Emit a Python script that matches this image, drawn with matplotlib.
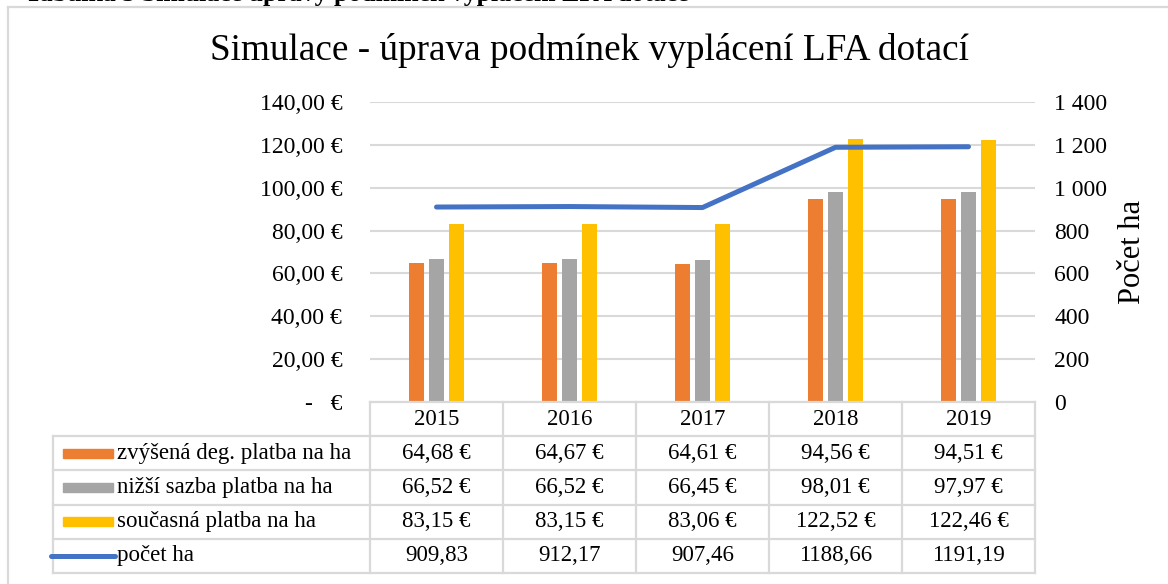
import matplotlib
matplotlib.use("Agg")
import matplotlib.pyplot as plt
from matplotlib.patches import Rectangle
from matplotlib.lines import Line2D
import numpy as np

# ── Data ──────────────────────────────────────────────────────────────────────
years = ["2015", "2016", "2017", "2018", "2019"]
zvysena = [64.68, 64.67, 64.61, 94.56, 94.51]
nizsi = [66.52, 66.52, 66.45, 98.01, 97.97]
soucasna = [83.15, 83.15, 83.06, 122.52, 122.46]
pocet_ha = [909.83, 912.17, 907.46, 1188.66, 1191.19]

bar_names = ["zvýšená deg. platba na ha", "nižší sazba platba na ha", "současná platba na ha"]
line_name = "počet ha"
bar_colors = ["#ED7D31", "#A5A5A5", "#FFC000"]
line_color = "#4472C4"
grid_color = "#D9D9D9"

left_ticks = [0, 20, 40, 60, 80, 100, 120, 140]
right_ticks = [0, 200, 400, 600, 800, 1000, 1200, 1400]

TITLE = "Simulace - úprava podmínek vyplácení LFA dotací"
CAPTION = "Tabulka 5 Simulace úpravy podmínek vyplácení LFA dotace"

# ── Helpers ───────────────────────────────────────────────────────────────────
W, H = 1168, 584
plt.rcParams["font.family"] = ["Liberation Serif", "DejaVu Serif"]
FS_TAB = 16.5


def px_box(x0, y0, x1, y1):
    return [x0 / W, 1 - y1 / H, (x1 - x0) / W, (y1 - y0) / H]


def eur(v):
    return f"{v:.2f}".replace(".", ",") + " €"


def num(v):
    return f"{v:.2f}".replace(".", ",")


def thousands(v):
    return f"{int(v):,}".replace(",", " ")


fig = plt.figure(figsize=(W / 100, H / 100), dpi=100)

# outer frame + caption (mostly above the top edge, as in the source screenshot)
fig.add_artist(Line2D([8 / W, 1], [1 - 7 / H, 1 - 7 / H], color=grid_color, lw=1.6))
fig.add_artist(Line2D([8 / W, 8 / W], [1 - 7 / H, 0], color=grid_color, lw=1.6))
fig.text(25 / W, 1 - 1.5 / H, CAPTION, fontsize=18.5, fontweight="bold", va="baseline")

fig.text(590 / W, 1 - 51 / H, TITLE, fontsize=26.8, ha="center", va="center")

# ── Chart ─────────────────────────────────────────────────────────────────────
ax = fig.add_axes(px_box(370, 102, 1035, 402))
x = np.arange(len(years))
step, bw = 0.15, 0.115
for i, (vals, c) in enumerate(zip([zvysena, nizsi, soucasna], bar_colors)):
    ax.bar(x + (i - 1) * step, vals, width=bw, color=c, zorder=3)
ax.set_xlim(-0.5, len(years) - 0.5)
ax.set_ylim(0, 140)
ax.set_yticks(left_ticks)
ax.set_yticklabels([eur(v) if v else "-   €" for v in left_ticks], fontsize=17)
ax.tick_params(axis="y", length=0, pad=20)
ax.set_xticks([])
for s in ax.spines.values():
    s.set_visible(False)
ax.grid(axis="y", color=grid_color, lw=1.5, zorder=0)

ax2 = ax.twinx()
ax2.plot(x, pocet_ha, color=line_color, lw=3.6, solid_capstyle="round",
         solid_joinstyle="round", zorder=4)
ax2.set_ylim(0, 1400)
ax2.set_yticks(right_ticks)
ax2.set_yticklabels([thousands(v) for v in right_ticks], fontsize=17)
ax2.tick_params(axis="y", length=0, pad=14)
for s in ax2.spines.values():
    s.set_visible(False)
fig.text(1133 / W, 1 - 252 / H, "Počet ha", fontsize=22, rotation=90,
         ha="center", va="center")

# ── Data table ────────────────────────────────────────────────────────────────
tab = fig.add_axes(px_box(53, 402, 1035, 573))
x_left = -0.5 - 317 / 133
n_rows = 5
tab.set_xlim(x_left, len(years) - 0.5)
tab.set_ylim(n_rows, 0)
tab.axis("off")

lw_tab = 1.6
for r in range(n_rows + 1):
    x0 = -0.5 if r == 0 else x_left
    tab.plot([x0, len(years) - 0.5], [r, r], color=grid_color, lw=lw_tab, clip_on=False)
for c in range(len(years) + 1):
    tab.plot([c - 0.5, c - 0.5], [0, n_rows], color=grid_color, lw=lw_tab, clip_on=False)
tab.plot([x_left, x_left], [1, n_rows], color=grid_color, lw=lw_tab, clip_on=False)

for j, yr in enumerate(years):
    tab.text(j, 0.5, yr, ha="center", va="center", fontsize=FS_TAB)

rows = [zvysena, nizsi, soucasna]
key_x0, key_x1 = x_left + 10 / 133, x_left + 60 / 133
text_x = x_left + 64 / 133
for i, (vals, name, c) in enumerate(zip(rows, bar_names, bar_colors)):
    r = i + 1
    tab.add_patch(Rectangle((key_x0, r + 0.5 - 0.13), key_x1 - key_x0, 0.26,
                            color=c, clip_on=False))
    tab.text(text_x, r + 0.5, name, ha="left", va="center", fontsize=FS_TAB)
    for j, v in enumerate(vals):
        tab.text(j, r + 0.5, eur(v), ha="center", va="center", fontsize=FS_TAB)

r = 4
tab.plot([x_left - 2 / 133, text_x - 2 / 133], [r + 0.5, r + 0.5], color=line_color,
         lw=3.6, solid_capstyle="round", clip_on=False)
tab.text(text_x, r + 0.5, line_name, ha="left", va="center", fontsize=FS_TAB)
for j, v in enumerate(pocet_ha):
    tab.text(j, r + 0.5, num(v), ha="center", va="center", fontsize=FS_TAB)

fig.savefig("out.png", dpi=100)
